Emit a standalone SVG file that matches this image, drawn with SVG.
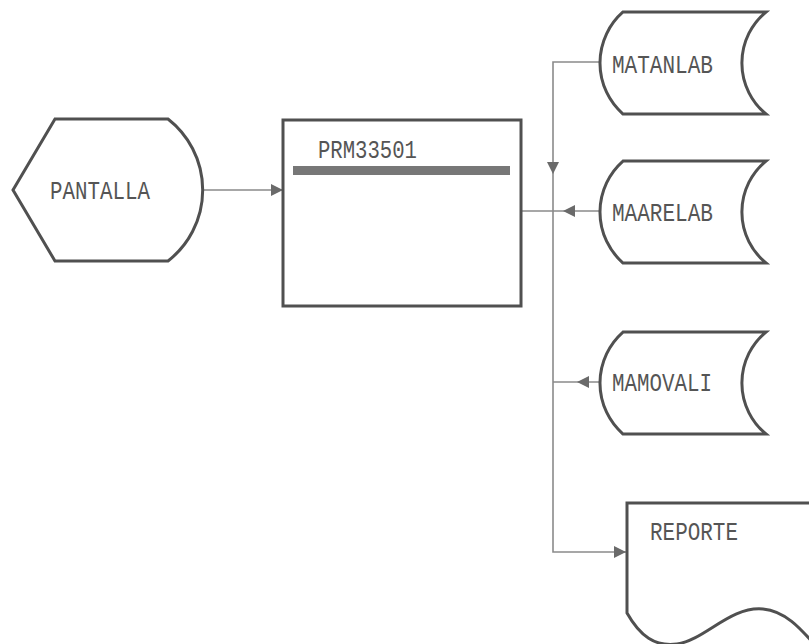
<svg xmlns="http://www.w3.org/2000/svg" width="809" height="644" viewBox="0 0 809 644">
<defs>
<style>
.shape{fill:#fff;stroke:#505050;stroke-width:3;stroke-linejoin:miter}
.conn{fill:none;stroke:#8a8a8a;stroke-width:1.6}
.head{fill:#6a6a6a}
.lbl{font-family:"Liberation Mono","DejaVu Sans Mono",monospace;font-size:26px;fill:#555}
</style>
</defs>
<rect width="809" height="644" fill="#fff"/>
<g id="connectors">
<line class="conn" x1="203" y1="190" x2="283" y2="190"/>
<polygon class="head" points="283,190 271,184 271,196"/>
<line class="conn" x1="521" y1="211" x2="600" y2="211"/>
<polyline class="conn" points="600,62 553,62 553,552 627,552"/>
<polygon class="head" points="553,174 547,162 559,162"/>
<polygon class="head" points="563,211 575,205 575,217"/>
<line class="conn" x1="553" y1="382" x2="600" y2="382"/>
<polygon class="head" points="577,382 589,376 589,388"/>
<polygon class="head" points="626,552 614,546 614,558"/>
</g>
<g id="pantalla">
<path class="shape" d="M55,119 L168,119 A90,90 0 0 1 168,261 L55,261 L13,190 Z"/>
<text class="lbl" x="50" y="199" textLength="100" lengthAdjust="spacingAndGlyphs">PANTALLA</text>
</g>
<g id="prm33501">
<rect class="shape" x="283" y="120" width="238" height="186" stroke-width="3.5"/>
<text class="lbl" x="318" y="158" textLength="99" lengthAdjust="spacingAndGlyphs">PRM33501</text>
<rect x="293" y="166" width="217" height="9" fill="#777"/>
</g>
<g id="matanlab">
<path class="shape" d="M623,12 L766,12 A66,66 0 0 0 766,114 L623,114 A68,68 0 0 1 623,12 Z"/>
<text class="lbl" x="612" y="73" textLength="101" lengthAdjust="spacingAndGlyphs">MATANLAB</text>
</g>
<g id="maarelab">
<path class="shape" d="M623,161 L766,161 A66,66 0 0 0 766,263 L623,263 A68,68 0 0 1 623,161 Z"/>
<text class="lbl" x="612" y="221" textLength="101" lengthAdjust="spacingAndGlyphs">MAARELAB</text>
</g>
<g id="mamovali">
<path class="shape" d="M623,332 L766,332 A66,66 0 0 0 766,434 L623,434 A68,68 0 0 1 623,332 Z"/>
<text class="lbl" x="612" y="391" textLength="100" lengthAdjust="spacingAndGlyphs">MAMOVALI</text>
</g>
<g id="reporte">
<path class="shape" d="M815,503 L627,503 L627,613 C640,636 655,647 677,644 C705,640 730,606 763,609 C785,611 800,628 815,645"/>
<text class="lbl" x="650" y="540" textLength="88" lengthAdjust="spacingAndGlyphs">REPORTE</text>
</g>
</svg>
